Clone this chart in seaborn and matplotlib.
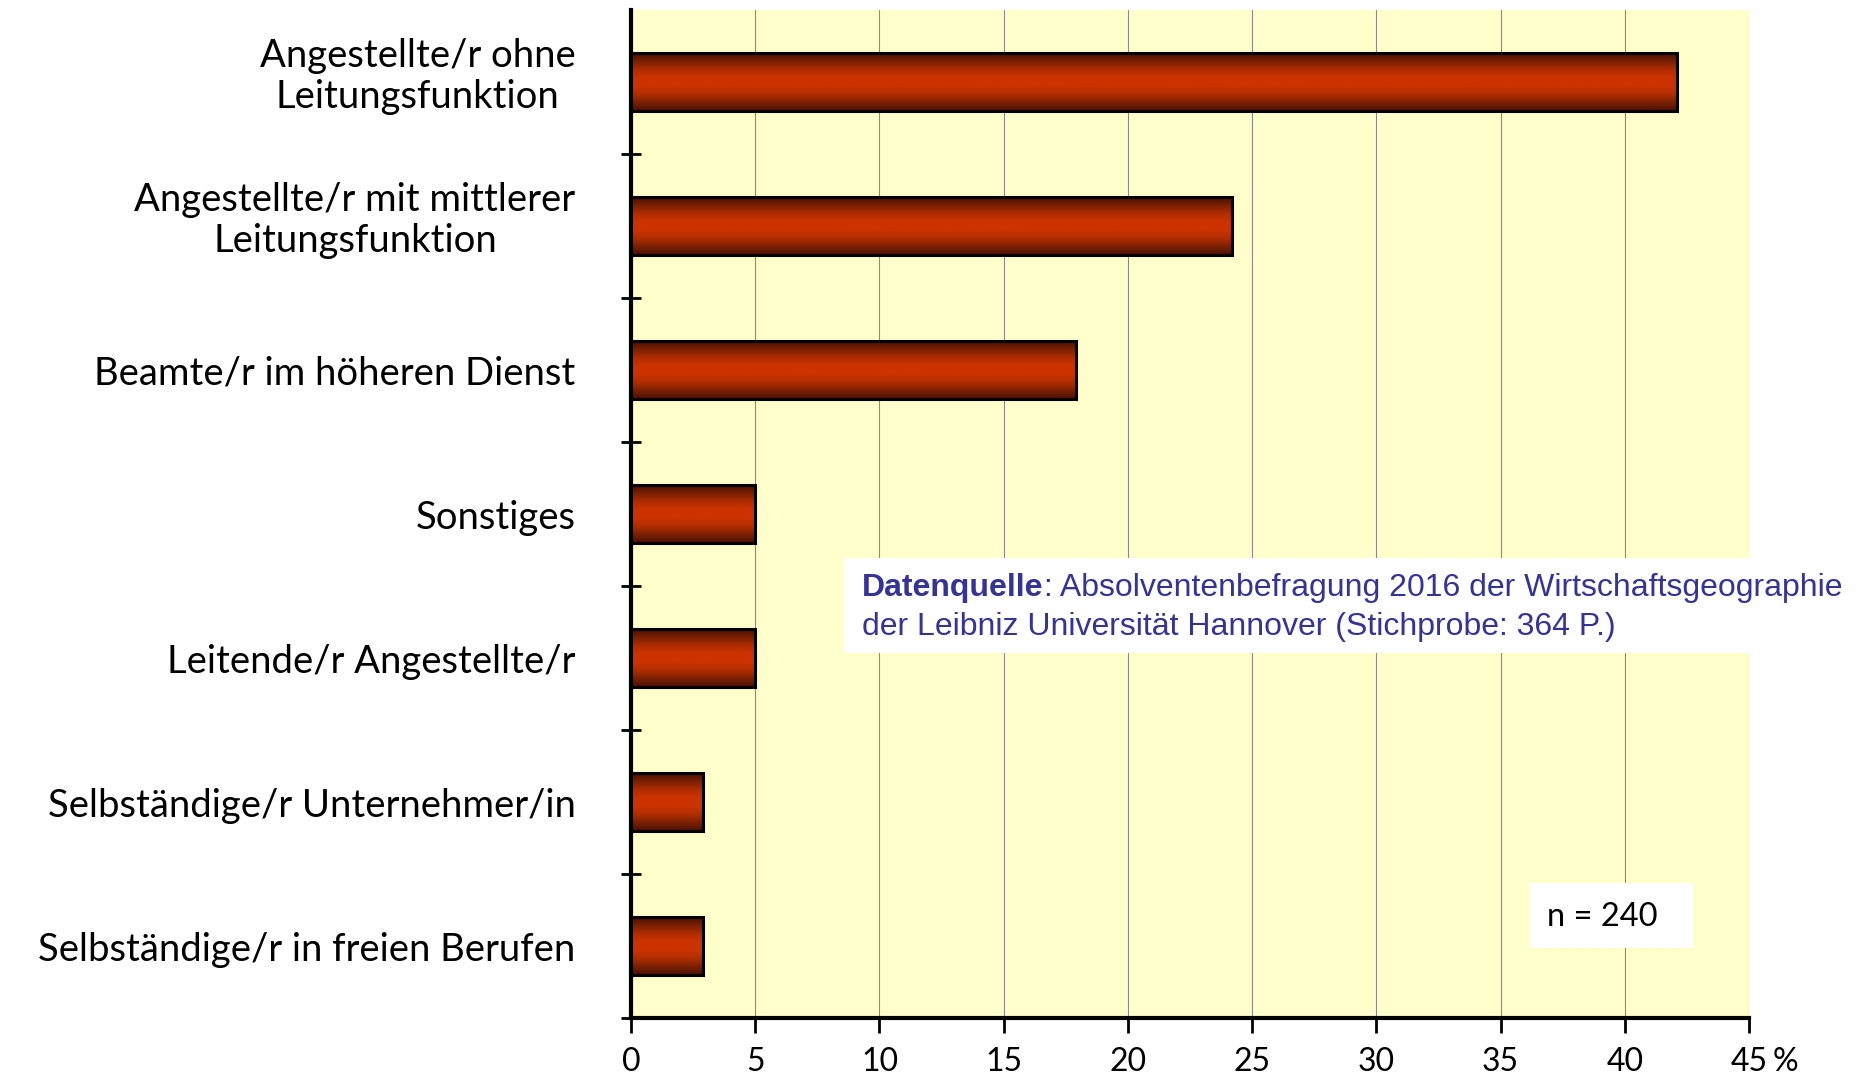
import numpy as np
import pandas as pd
import matplotlib
matplotlib.use("Agg")
import matplotlib.pyplot as plt
import matplotlib.transforms as mtransforms
from matplotlib.patches import Rectangle
from matplotlib.colors import LinearSegmentedColormap
import seaborn as sns

categories = [
    "Angestellte/r ohne\nLeitungsfunktion",
    "Angestellte/r mit mittlerer\nLeitungsfunktion",
    "Beamte/r im höheren Dienst",
    "Sonstiges",
    "Leitende/r Angestellte/r",
    "Selbständige/r Unternehmer/in",
    "Selbständige/r in freien Berufen",
]
values = [42.1, 24.2, 17.9, 5.0, 5.0, 2.9, 2.9]
xticks = [0, 5, 10, 15, 20, 25, 30, 35, 40, 45]
source_bold = "Datenquelle"
source_rest = ": Absolventenbefragung 2016 der Wirtschaftsgeographie"
source_line2 = "der Leibniz Universität Hannover (Stichprobe: 364 P.)"
n_label = "n = 240"

df = pd.DataFrame({"Kategorie": categories, "Anteil": values})

sns.set_theme(style="white")
plt.rcParams["font.family"] = ["Lato", "DejaVu Sans"]

fig = plt.figure(figsize=(18.63, 10.8), dpi=100)
fig.patch.set_facecolor("white")
ax = fig.add_axes([631 / 1863, 1 - 1018 / 1080, (1749 - 631) / 1863, (1018 - 10) / 1080])
ax.set_facecolor("#FFFFCC")

sns.barplot(data=df, x="Anteil", y="Kategorie", orient="h", ax=ax,
            width=0.4, color="#cc3300", edgecolor="black", linewidth=2.2,
            saturation=1, zorder=3)

cmap = LinearSegmentedColormap.from_list(
    "bar", ["#4a1000", "#7a2000", "#b02d00", "#cc3300", "#cc3300", "#b02d00", "#7a2000", "#4a1000"])
grad = np.linspace(0, 1, 256).reshape(-1, 1)
for p in list(ax.patches):
    x0, y0 = p.get_x(), p.get_y()
    w, h = p.get_width(), p.get_height()
    p.set_facecolor("none")
    shadow = Rectangle((x0 + 0.06, y0 + 0.012), w, h, facecolor="#8a8a70", edgecolor="none", zorder=2.5)
    ax.add_patch(shadow)
    im = ax.imshow(grad, cmap=cmap, aspect="auto", extent=(x0, x0 + w, y0 + h, y0),
                   zorder=2.8, interpolation="bicubic")
    im.set_clip_path(p)

ax.set_xlim(0, 45)
ax.set_ylim(6.5, -0.5)
ax.set_xlabel("")
ax.set_ylabel("")

ax.set_xticks(xticks)
ax.set_xticklabels([str(t) for t in xticks])
ax.xaxis.grid(True, color="#8a8a8a", linewidth=0.8, zorder=1)
ax.yaxis.grid(False)
ax.set_axisbelow(True)

ax.set_yticks(range(len(categories)))
ax.set_yticklabels(categories, multialignment="center", linespacing=1.15)
ax.set_yticks(np.arange(0.5, len(categories), 1.0), minor=True)
ax.tick_params(axis="y", which="major", length=0, pad=40, labelsize=27.5, labelcolor="black")
ax.tick_params(axis="y", which="minor", left=True, length=14, width=2, direction="inout", color="black")
ax.tick_params(axis="x", which="major", bottom=True, length=11, width=2, direction="out",
               color="black", labelsize=23, pad=10, labelcolor="black")

# lift two-line labels slightly, as in the original layout
for lab in ax.get_yticklabels():
    if "\n" in lab.get_text():
        lab.set_transform(lab.get_transform() + mtransforms.ScaledTranslation(0, 8 / 72, fig.dpi_scale_trans))

for s in ["top", "right"]:
    ax.spines[s].set_visible(False)
for s in ["left", "bottom"]:
    ax.spines[s].set_visible(True)
    ax.spines[s].set_color("black")
    ax.spines[s].set_linewidth(3)

# "%" after the last tick label
ax.annotate("%", xy=(45, 0), xycoords=("data", "axes fraction"), xytext=(17, -21),
            textcoords="offset points", ha="left", va="top", fontsize=23, color="black")

# source box
fig.patches.append(Rectangle((843 / 1863, 1 - 653 / 1080), (1853 - 843) / 1863, 95 / 1080,
                             transform=fig.transFigure, facecolor="white", edgecolor="none", zorder=5))
fs = 23
t1 = fig.text(862 / 1863, 1 - 588 / 1080, source_bold, fontsize=fs, fontweight="bold", color="#333399",
              family=["Liberation Sans", "DejaVu Sans"], va="center", ha="left", zorder=6)
fig.canvas.draw()
bb = t1.get_window_extent()
fig.text(bb.x1 / 1863, 1 - 588 / 1080, source_rest, fontsize=fs, color="#333399",
         family=["Liberation Sans", "DejaVu Sans"], va="center", ha="left", zorder=6)
fig.text(862 / 1863, 1 - 627 / 1080, source_line2, fontsize=fs, color="#333399",
         family=["Liberation Sans", "DejaVu Sans"], va="center", ha="left", zorder=6)

# n box
fig.patches.append(Rectangle((1529 / 1863, 1 - 948 / 1080), (1693 - 1529) / 1863, 65 / 1080,
                             transform=fig.transFigure, facecolor="white", edgecolor="none", zorder=5))
fig.text(1547 / 1863, 1 - 917 / 1080, n_label, fontsize=23.5, color="black", va="center", ha="left", zorder=6)

fig.savefig("out.png", dpi=100, facecolor="white")
